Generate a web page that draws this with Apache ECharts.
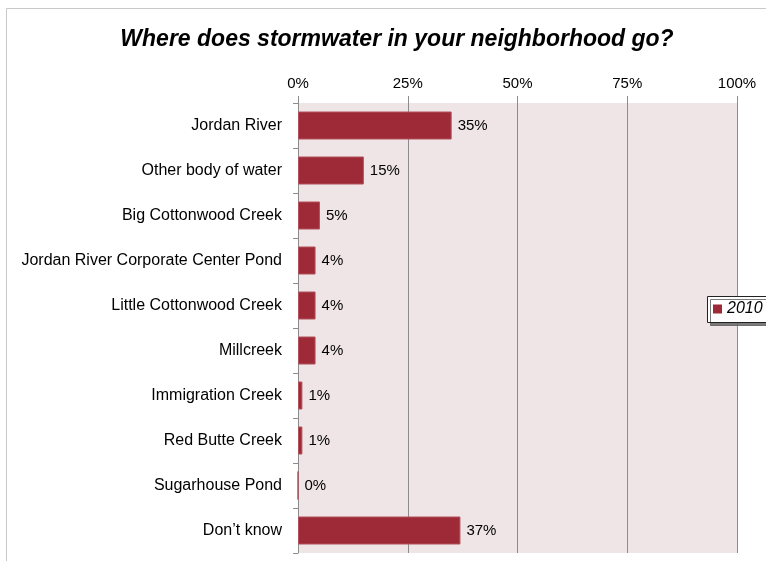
<!DOCTYPE html>
<html><head><meta charset="utf-8">
<script src="https://cdn.jsdelivr.net/npm/echarts@6/dist/echarts.min.js"></script>
<style>html,body{margin:0;padding:0;background:#fff}#c{width:766px;height:561px}</style>
</head><body><div id="c"></div>
<script>
var categories = ["Jordan River","Other body of water","Big Cottonwood Creek","Jordan River Corporate Center Pond","Little Cottonwood Creek","Millcreek","Immigration Creek","Red Butte Creek","Sugarhouse Pond","Don\u2019t know"];
var values2010 = [35,15,5,4,4,4,1,1,0,37];
var seriesName = "2010";
var titleText = "Where does stormwater in your neighborhood go?";
var FONT = "'Liberation Sans', Arial, sans-serif";
var chart = echarts.init(document.getElementById('c'), null, {renderer:'canvas'});
chart.setOption({
  animation:false,
  backgroundColor:'#ffffff',
  title:{text:titleText,left:392,top:23,textAlign:'center',
    textStyle:{fontFamily:FONT,fontSize:23,fontWeight:'bold',fontStyle:'italic',color:'#000'}},
  graphic:[
    {type:'rect',shape:{x:6.5,y:8.5,width:800,height:600},style:{fill:'none',stroke:'#c8c8c8',lineWidth:1},silent:true,z:-1},
    {type:'rect',shape:{x:707.5,y:296.5,width:80,height:26},style:{fill:'#fff',stroke:'#222',lineWidth:1,shadowColor:'rgba(100,100,100,0.85)',shadowOffsetX:3,shadowOffsetY:3,shadowBlur:0},silent:true,z:50}
  ],
  legend:{data:[seriesName],left:710,top:299,orient:'vertical',z:60,
    padding:[2,3,2,3],
    itemWidth:9,itemHeight:9,icon:'rect',itemGap:4,
    itemStyle:{borderWidth:0},
    textStyle:{fontFamily:FONT,fontSize:16,fontStyle:'italic',color:'#000'}},
  grid:{left:298,right:29,top:103,bottom:8,show:true,backgroundColor:'#EFE5E6',borderWidth:0},
  xAxis:{type:'value',position:'top',min:0,max:100,interval:25,
    axisLine:{show:false},
    axisTick:{show:true,length:7,lineStyle:{color:'#8c8c8c'}},
    axisLabel:{formatter:'{value}%',fontFamily:FONT,fontSize:15,color:'#000',margin:12},
    splitLine:{show:true,lineStyle:{color:'#8c8c8c',width:1}}},
  yAxis:{type:'category',data:categories,inverse:true,
    axisLine:{show:true,lineStyle:{color:'#8c8c8c'}},
    axisTick:{show:true,length:5,lineStyle:{color:'#8c8c8c'}},
    axisLabel:{fontFamily:FONT,fontSize:16,color:'#000',margin:16}},
  series:[{name:seriesName,type:'bar',data:values2010,barWidth:28,
    itemStyle:{color:'#9E2A38',borderColor:'#B2505C',borderWidth:1},
    label:{show:true,position:'right',distance:6,formatter:'{c}%',fontFamily:FONT,fontSize:15,color:'#000'}}]
});
</script></body></html>
